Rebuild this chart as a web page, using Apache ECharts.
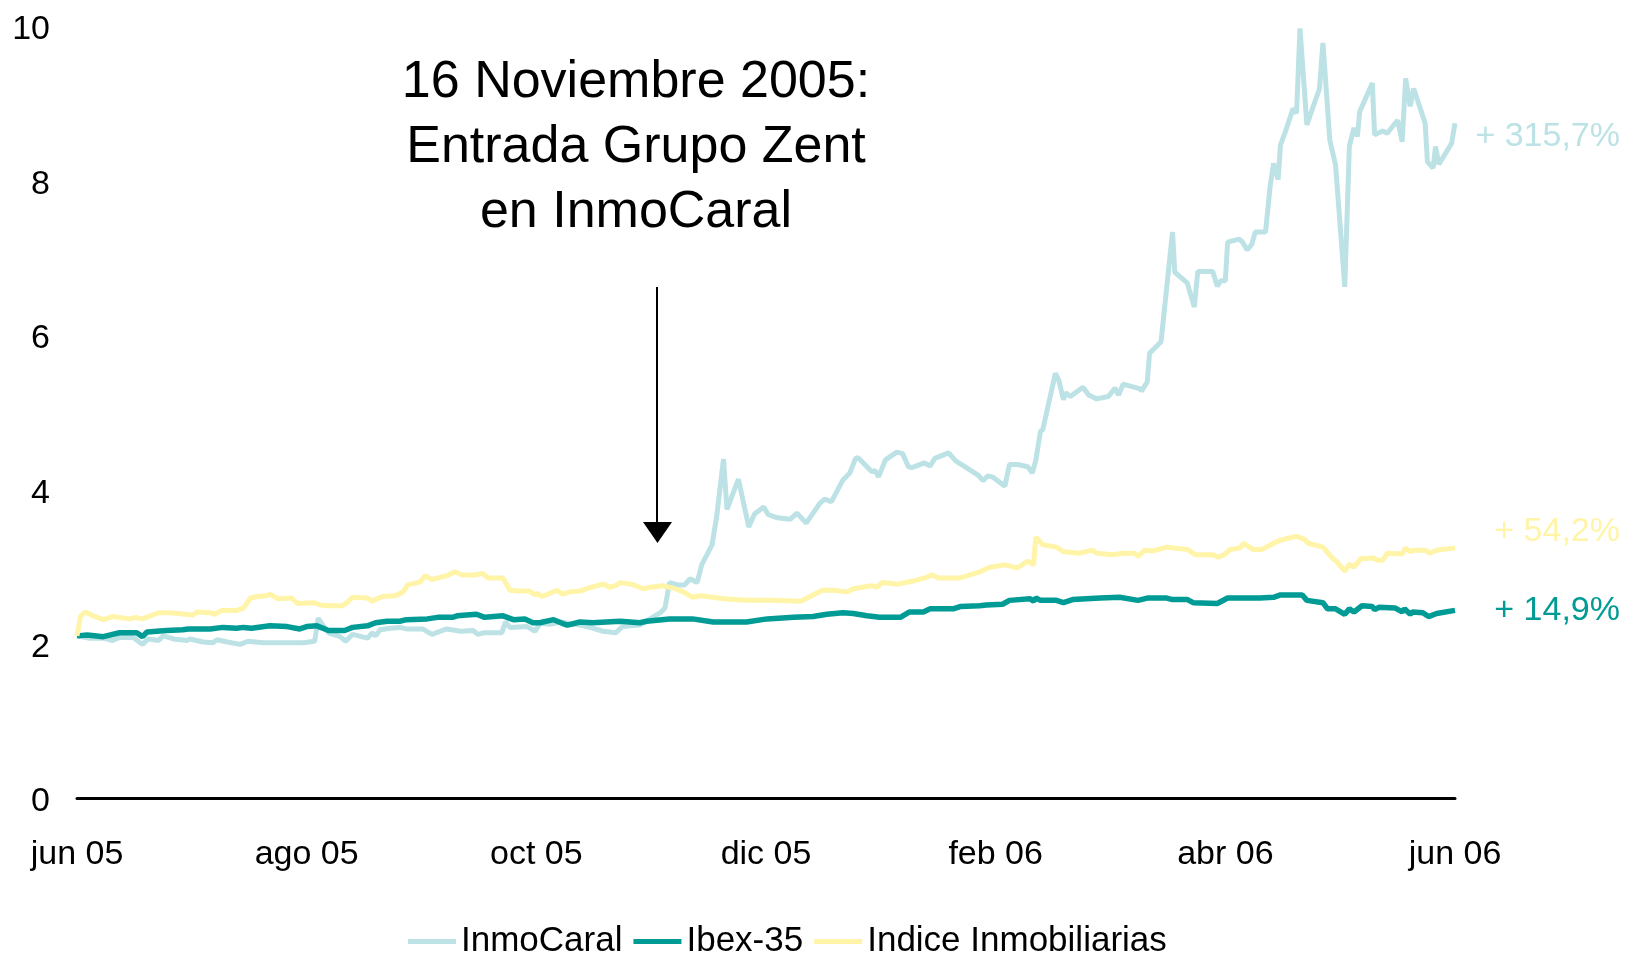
<!DOCTYPE html>
<html lang="es">
<head>
    <meta charset="UTF-8">
    <title>InmoCaral vs Ibex-35</title>
    <script src="https://cdn.jsdelivr.net/npm/echarts@6/dist/echarts.min.js"></script>
    <style>
        html, body { margin: 0; padding: 0; background: #fff; }
        #main { width: 1634px; height: 955px; }
    </style>
</head>
<body>
<div id="main"></div>
<script>
    // eje x en meses desde jun 05
    var tickLabels = ['jun 05', 'ago 05', 'oct 05', 'dic 05', 'feb 06', 'abr 06', 'jun 06'];

    var inmoX = [0.00,0.11,0.23,0.31,0.37,0.49,0.57,0.62,0.71,0.75,0.84,0.96,0.98,1.10,1.18,1.22,1.31,1.42,1.49,1.62,1.85,1.97,2.07,2.10,2.14,2.19,2.29,2.34,2.40,2.53,2.57,2.60,2.64,2.73,2.81,2.87,3.01,3.09,3.22,3.34,3.45,3.49,3.54,3.70,3.73,3.77,3.92,3.99,4.03,4.12,4.21,4.29,4.38,4.49,4.58,4.69,4.75,4.90,5.08,5.12,5.16,5.23,5.29,5.34,5.40,5.44,5.53,5.57,5.63,5.66,5.76,5.85,5.90,5.98,6.02,6.10,6.21,6.27,6.35,6.47,6.51,6.57,6.67,6.73,6.78,6.80,6.92,6.95,6.98,7.04,7.14,7.19,7.24,7.27,7.38,7.43,7.47,7.59,7.65,7.69,7.85,7.89,7.93,7.97,8.08,8.12,8.19,8.28,8.32,8.35,8.39,8.41,8.52,8.55,8.59,8.61,8.65,8.76,8.81,8.88,8.98,9.04,9.07,9.11,9.26,9.27,9.32,9.34,9.44,9.54,9.56,9.67,9.69,9.73,9.76,9.89,9.93,9.96,10.00,10.02,10.12,10.15,10.19,10.23,10.26,10.35,10.39,10.42,10.46,10.48,10.52,10.59,10.62,10.65,10.71,10.82,10.85,10.91,10.96,11.04,11.08,11.12,11.15,11.17,11.28,11.30,11.37,11.41,11.50,11.54,11.57,11.61,11.64,11.74,11.76,11.81,11.83,11.86,11.97,12.00];
    var inmoY = [2.10,2.07,2.07,2.04,2.08,2.08,1.99,2.06,2.04,2.10,2.06,2.04,2.06,2.02,2.01,2.05,2.02,1.99,2.03,2.01,2.01,2.01,2.03,2.33,2.24,2.14,2.09,2.03,2.12,2.07,2.14,2.10,2.18,2.20,2.21,2.19,2.19,2.12,2.19,2.16,2.17,2.12,2.14,2.14,2.28,2.21,2.22,2.16,2.26,2.25,2.28,2.26,2.24,2.20,2.16,2.14,2.22,2.24,2.40,2.46,2.79,2.76,2.76,2.84,2.79,3.02,3.28,3.64,4.39,3.74,4.13,3.51,3.68,3.77,3.67,3.63,3.61,3.69,3.56,3.82,3.87,3.84,4.12,4.21,4.40,4.41,4.23,4.24,4.16,4.38,4.48,4.46,4.29,4.28,4.34,4.30,4.40,4.47,4.37,4.33,4.18,4.11,4.17,4.16,4.04,4.32,4.32,4.29,4.21,4.38,4.75,4.77,5.50,5.41,5.16,5.25,5.20,5.32,5.22,5.17,5.20,5.31,5.22,5.36,5.30,5.27,5.39,5.76,5.91,7.33,6.81,6.67,6.56,6.36,6.82,6.82,6.63,6.70,6.70,7.20,7.24,7.20,7.10,7.17,7.33,7.33,7.92,8.22,8.01,8.46,8.62,8.93,8.87,9.97,8.72,9.19,9.78,8.52,8.20,6.62,8.44,8.68,8.57,8.89,9.26,8.59,8.64,8.61,8.78,8.50,9.32,8.96,9.19,8.74,8.24,8.16,8.44,8.21,8.48,8.74];

    var ibexX = [0.00,0.09,0.23,0.37,0.52,0.57,0.61,0.78,0.92,0.97,1.16,1.27,1.39,1.45,1.52,1.68,1.83,1.94,2.00,2.09,2.19,2.33,2.40,2.53,2.60,2.70,2.81,2.87,3.05,3.14,3.27,3.31,3.48,3.55,3.71,3.80,3.90,3.97,4.03,4.15,4.23,4.27,4.38,4.49,4.73,4.90,4.96,5.16,5.36,5.54,5.83,6.01,6.24,6.41,6.53,6.67,6.76,6.88,6.99,7.17,7.25,7.37,7.43,7.63,7.69,7.86,7.92,8.06,8.12,8.30,8.33,8.35,8.39,8.53,8.59,8.67,8.91,9.08,9.24,9.32,9.49,9.54,9.67,9.72,9.93,10.02,10.30,10.42,10.48,10.67,10.71,10.85,10.89,10.96,11.04,11.08,11.12,11.19,11.28,11.30,11.34,11.48,11.54,11.56,11.61,11.63,11.72,11.77,11.84,12.00];
    var ibexY = [2.10,2.11,2.09,2.14,2.14,2.09,2.15,2.17,2.18,2.19,2.19,2.21,2.20,2.21,2.20,2.23,2.22,2.19,2.22,2.23,2.17,2.17,2.21,2.23,2.27,2.29,2.29,2.31,2.32,2.34,2.34,2.36,2.38,2.34,2.36,2.31,2.32,2.27,2.27,2.31,2.26,2.24,2.28,2.27,2.29,2.27,2.29,2.32,2.32,2.28,2.28,2.32,2.34,2.35,2.38,2.40,2.39,2.36,2.34,2.34,2.41,2.41,2.45,2.45,2.48,2.49,2.50,2.51,2.56,2.58,2.55,2.59,2.56,2.56,2.53,2.57,2.59,2.60,2.56,2.59,2.59,2.57,2.57,2.53,2.52,2.59,2.59,2.60,2.63,2.63,2.56,2.53,2.45,2.45,2.38,2.45,2.41,2.49,2.48,2.44,2.47,2.46,2.41,2.45,2.38,2.41,2.40,2.35,2.39,2.43];

    var indiceX = [0.00,0.03,0.07,0.14,0.23,0.31,0.46,0.51,0.57,0.71,0.81,1.01,1.05,1.16,1.20,1.26,1.39,1.45,1.51,1.57,1.65,1.68,1.75,1.87,1.92,2.06,2.12,2.20,2.31,2.35,2.40,2.53,2.57,2.66,2.77,2.84,2.88,2.99,3.03,3.09,3.22,3.29,3.35,3.47,3.53,3.58,3.71,3.77,3.84,3.94,3.99,4.01,4.05,4.18,4.23,4.29,4.38,4.48,4.58,4.64,4.69,4.73,4.83,4.93,4.99,5.10,5.19,5.28,5.36,5.43,5.54,5.63,5.83,6.06,6.30,6.41,6.49,6.58,6.71,6.76,6.92,6.97,7.01,7.15,7.28,7.38,7.45,7.50,7.69,7.86,7.95,8.08,8.19,8.28,8.33,8.35,8.41,8.53,8.59,8.73,8.84,8.88,9.01,9.11,9.21,9.24,9.30,9.37,9.49,9.54,9.67,9.74,9.89,9.94,10.00,10.04,10.13,10.16,10.24,10.32,10.42,10.48,10.62,10.69,10.72,10.85,10.93,10.97,11.04,11.08,11.12,11.18,11.29,11.32,11.37,11.41,11.54,11.57,11.61,11.65,11.74,11.78,11.84,12.00];
    var indiceY = [2.10,2.35,2.41,2.36,2.31,2.35,2.32,2.34,2.32,2.40,2.40,2.37,2.41,2.40,2.38,2.43,2.43,2.46,2.59,2.61,2.62,2.64,2.58,2.59,2.52,2.53,2.50,2.49,2.49,2.53,2.60,2.59,2.55,2.61,2.62,2.67,2.76,2.80,2.88,2.83,2.88,2.93,2.89,2.89,2.91,2.85,2.85,2.69,2.68,2.68,2.63,2.65,2.61,2.69,2.64,2.67,2.68,2.73,2.77,2.73,2.75,2.79,2.77,2.71,2.73,2.75,2.72,2.67,2.60,2.62,2.60,2.58,2.56,2.56,2.55,2.63,2.69,2.69,2.67,2.71,2.75,2.73,2.79,2.77,2.81,2.85,2.89,2.85,2.85,2.93,2.99,3.02,2.98,3.07,3.02,3.38,3.28,3.25,3.19,3.17,3.21,3.17,3.15,3.17,3.17,3.13,3.21,3.20,3.25,3.24,3.22,3.15,3.15,3.12,3.16,3.22,3.24,3.30,3.22,3.22,3.30,3.34,3.39,3.35,3.30,3.25,3.11,3.06,2.94,3.03,2.99,3.10,3.11,3.08,3.08,3.17,3.16,3.24,3.19,3.21,3.21,3.17,3.21,3.24];

    var colInmo = '#BCE2E5';
    var colIbex = '#009B95';
    var colIndice = '#FFF4A8';

    function pares(xs, ys) {
        var out = [];
        for (var i = 0; i < xs.length; i++) {
            out.push([xs[i], ys[i]]);
        }
        return out;
    }

    var chart = echarts.init(document.getElementById('main'));
    var fuente = 'Liberation Sans, Arial, sans-serif';

    var option = {
        animation: false,
        backgroundColor: '#fff',
        textStyle: { fontFamily: fuente },
        grid: { left: 77, right: 179, top: 26, bottom: 157 },
        legend: {
            left: 403,
            top: 919,
            icon: 'rect',
            itemWidth: 48,
            itemHeight: 5,
            itemGap: 11,
            textStyle: { fontSize: 35, color: '#000', fontFamily: fuente },
            data: ['InmoCaral', 'Ibex-35', 'Indice Inmobiliarias']
        },
        xAxis: {
            type: 'value',
            min: 0,
            max: 12,
            interval: 2,
            axisLine: { show: true, onZero: false, lineStyle: { color: '#000', width: 3 } },
            axisTick: { show: false },
            splitLine: { show: false },
            axisLabel: {
                fontSize: 34,
                color: '#000',
                margin: 40,
                formatter: function (v) { return tickLabels[Math.round(v / 2)]; }
            }
        },
        yAxis: {
            type: 'value',
            min: 0,
            max: 10,
            interval: 2,
            axisLine: { show: false },
            axisTick: { show: false },
            splitLine: { show: false },
            axisLabel: {
                margin: 27,
                formatter: '{v|{value}}',
                rich: { v: { fontSize: 34, color: '#000', fontFamily: fuente, padding: [8, 0, 0, 0] } }
            }
        },
        series: [{
            name: 'InmoCaral',
            type: 'line',
            showSymbol: false,
            data: pares(inmoX, inmoY),
            color: colInmo,
            lineStyle: { width: 5, color: colInmo }
        }, {
            name: 'Ibex-35',
            type: 'line',
            showSymbol: false,
            data: pares(ibexX, ibexY),
            color: colIbex,
            lineStyle: { width: 5.5, color: colIbex }
        }, {
            name: 'Indice Inmobiliarias',
            type: 'line',
            showSymbol: false,
            data: pares(indiceX, indiceY),
            color: colIndice,
            lineStyle: { width: 5, color: colIndice }
        }],
        graphic: [
            // texto del evento
            { type: 'text', x: 636, y: 83, style: { text: '16 Noviembre 2005:', font: '52px ' + fuente, fill: '#000', align: 'center', verticalAlign: 'middle' } },
            { type: 'text', x: 636, y: 148, style: { text: 'Entrada Grupo Zent', font: '52px ' + fuente, fill: '#000', align: 'center', verticalAlign: 'middle' } },
            { type: 'text', x: 636, y: 213, style: { text: 'en InmoCaral', font: '52px ' + fuente, fill: '#000', align: 'center', verticalAlign: 'middle' } },
            // flecha
            { type: 'line', shape: { x1: 657, y1: 287, x2: 657, y2: 524 }, style: { stroke: '#000', lineWidth: 2 } },
            { type: 'polygon', shape: { points: [[643, 522], [672, 522], [657.5, 543]] }, style: { fill: '#000' } },
            // variaciones
            { type: 'text', x: 1620, y: 137, style: { text: '+ 315,7%', font: '34px ' + fuente, fill: colInmo, align: 'right', verticalAlign: 'middle' } },
            { type: 'text', x: 1620, y: 532, style: { text: '+ 54,2%', font: '34px ' + fuente, fill: colIndice, align: 'right', verticalAlign: 'middle' } },
            { type: 'text', x: 1620, y: 611, style: { text: '+ 14,9%', font: '34px ' + fuente, fill: colIbex, align: 'right', verticalAlign: 'middle' } }
        ]
    };

    chart.setOption(option);
</script>
</body>
</html>
